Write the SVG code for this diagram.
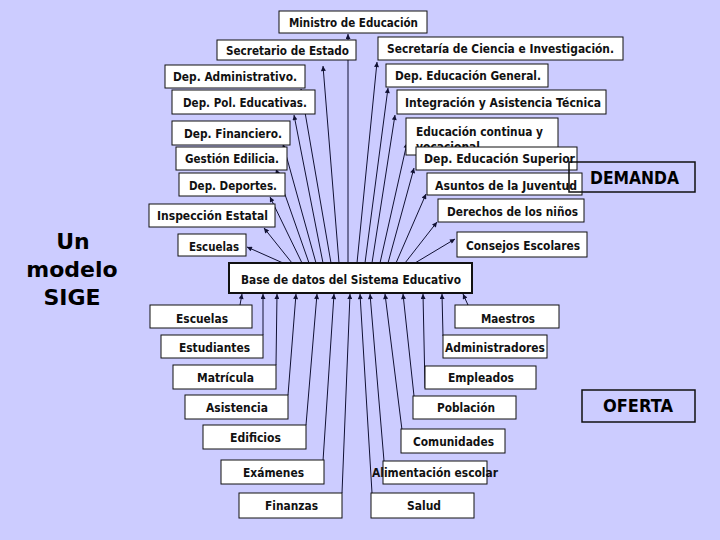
<svg xmlns="http://www.w3.org/2000/svg" width="720" height="540" viewBox="0 0 720 540">
<style>
.bg{fill:#ccccff}
.box rect{fill:#ffffff;stroke:#111111;stroke-width:1}
.box text,.lbl{font-family:"DejaVu Sans","Liberation Sans",sans-serif;font-weight:bold;font-size:11.5px;fill:#111111;text-anchor:middle}
.big{font-family:"DejaVu Sans","Liberation Sans",sans-serif;font-weight:bold;fill:#000000;text-anchor:middle}
.frame{fill:none;stroke:#111111;stroke-width:1.5}
#connectors line{stroke:#111133;stroke-width:1;marker-end:url(#ah)}
</style>
<defs>
<marker id="ah" viewBox="0 0 10 10" refX="10" refY="5" markerWidth="6" markerHeight="5" markerUnits="userSpaceOnUse" orient="auto">
<path d="M0,0 L10,5 L0,10 z" fill="#111133"/>
</marker>
</defs>
<rect class="bg" x="0" y="0" width="720" height="540"/>

<g id="connectors">
<line x1="283" y1="263" x2="247" y2="247"/>
<line x1="292" y1="263" x2="264" y2="228"/>
<line x1="302" y1="263" x2="270" y2="197"/>
<line x1="309" y1="263" x2="276" y2="169"/>
<line x1="316" y1="263" x2="283" y2="144"/>
<line x1="323" y1="263" x2="294" y2="115"/>
<line x1="331" y1="263" x2="301" y2="89"/>
<line x1="339" y1="263" x2="323" y2="66"/>
<line x1="348" y1="263" x2="348" y2="34"/>
<line x1="357" y1="263" x2="377" y2="62"/>
<line x1="365" y1="263" x2="388" y2="88"/>
<line x1="372" y1="263" x2="395" y2="115"/>
<line x1="380" y1="263" x2="407" y2="143"/>
<line x1="388" y1="263" x2="414" y2="168"/>
<line x1="396" y1="263" x2="426" y2="194"/>
<line x1="405" y1="263" x2="437" y2="222"/>
<line x1="415" y1="263" x2="455" y2="239"/>
<line x1="240" y1="305" x2="242" y2="294"/>
<line x1="263" y1="335" x2="263" y2="294"/>
<line x1="276" y1="365" x2="277" y2="294"/>
<line x1="288" y1="395" x2="296" y2="294"/>
<line x1="306" y1="425" x2="317" y2="294"/>
<line x1="323" y1="461" x2="334" y2="294"/>
<line x1="342" y1="493" x2="350" y2="294"/>
<line x1="372" y1="493" x2="360" y2="294"/>
<line x1="384" y1="461" x2="370" y2="294"/>
<line x1="402" y1="430" x2="385" y2="294"/>
<line x1="414" y1="396" x2="403" y2="294"/>
<line x1="425" y1="388" x2="423" y2="294"/>
<line x1="443" y1="336" x2="442" y2="294"/>
<line x1="468" y1="305" x2="463" y2="294"/>
</g>

<g id="ministro" class="box"><rect x="279" y="11" width="148" height="22"/><text x="353.5" y="26.5" textLength="129" lengthAdjust="spacingAndGlyphs">Ministro de Educación</text></g>
<g id="secretario" class="box"><rect x="217" y="40" width="139" height="20"/><text x="287.5" y="55" textLength="123" lengthAdjust="spacingAndGlyphs">Secretario de Estado</text></g>
<g id="ciencia" class="box"><rect x="378" y="37" width="245" height="23"/><text x="500.5" y="53" textLength="227" lengthAdjust="spacingAndGlyphs">Secretaría de Ciencia e Investigación.</text></g>
<g id="edgeneral" class="box"><rect x="386" y="64" width="162" height="23"/><text x="468" y="80" textLength="146" lengthAdjust="spacingAndGlyphs">Dep. Educación General.</text></g>
<g id="integracion" class="box"><rect x="397" y="90" width="209" height="24"/><text x="503" y="106.5" textLength="196" lengthAdjust="spacingAndGlyphs">Integración y Asistencia Técnica</text></g>
<g id="edcontinua" class="box"><rect x="406" y="118" width="152" height="37"/><text x="416" y="136" style="text-anchor:start" textLength="127" lengthAdjust="spacingAndGlyphs">Educación continua y</text><text x="416" y="151" style="text-anchor:start" textLength="64" lengthAdjust="spacingAndGlyphs">vocacional</text></g>
<g id="superior" class="box"><rect x="416" y="147" width="161" height="23"/><text x="499.5" y="163" textLength="151" lengthAdjust="spacingAndGlyphs">Dep. Educación Superior</text></g>
<g id="juventud" class="box"><rect x="427" y="173" width="155" height="22"/><text x="506" y="189.5" textLength="142" lengthAdjust="spacingAndGlyphs">Asuntos de la Juventud</text></g>
<g id="derechos" class="box"><rect x="438" y="199" width="146" height="23"/><text x="512.5" y="215.5" textLength="131" lengthAdjust="spacingAndGlyphs">Derechos de los niños</text></g>
<g id="consejos" class="box"><rect x="457" y="232" width="130" height="25"/><text x="523" y="249.5" textLength="114" lengthAdjust="spacingAndGlyphs">Consejos Escolares</text></g>
<g id="depadmin" class="box"><rect x="165" y="65" width="140" height="23"/><text x="235" y="81" textLength="124" lengthAdjust="spacingAndGlyphs">Dep. Administrativo.</text></g>
<g id="deppol" class="box"><rect x="172" y="90" width="143" height="24"/><text x="245" y="106.5" textLength="124" lengthAdjust="spacingAndGlyphs">Dep. Pol. Educativas.</text></g>
<g id="financiero" class="box"><rect x="172" y="121" width="118" height="24"/><text x="233" y="137.5" textLength="98" lengthAdjust="spacingAndGlyphs">Dep. Financiero.</text></g>
<g id="gestion" class="box"><rect x="176" y="147" width="111" height="23"/><text x="232" y="163" textLength="94" lengthAdjust="spacingAndGlyphs">Gestión Edilicia.</text></g>
<g id="deportes" class="box"><rect x="179" y="173" width="106" height="23"/><text x="233" y="189.5" textLength="88" lengthAdjust="spacingAndGlyphs">Dep. Deportes.</text></g>
<g id="inspeccion" class="box"><rect x="149" y="204" width="126" height="23"/><text x="212.5" y="220" textLength="111" lengthAdjust="spacingAndGlyphs">Inspección Estatal</text></g>
<g id="escuelas-top" class="box"><rect x="178" y="234" width="68" height="22"/><text x="214" y="250.5" textLength="50" lengthAdjust="spacingAndGlyphs">Escuelas</text></g>
<g id="base" class="box"><rect x="229" y="263" width="243" height="30" style="stroke-width:2"/><text x="351" y="283.5" textLength="220" lengthAdjust="spacingAndGlyphs">Base de datos del Sistema Educativo</text></g>
<g id="escuelas" class="box"><rect x="150" y="305" width="102" height="23"/><text x="202" y="322.5" textLength="52" lengthAdjust="spacingAndGlyphs">Escuelas</text></g>
<g id="estudiantes" class="box"><rect x="161" y="335" width="102" height="23"/><text x="214.5" y="351.5" textLength="71" lengthAdjust="spacingAndGlyphs">Estudiantes</text></g>
<g id="matricula" class="box"><rect x="173" y="365" width="103" height="24"/><text x="225.5" y="381.5" textLength="57" lengthAdjust="spacingAndGlyphs">Matrícula</text></g>
<g id="asistencia" class="box"><rect x="185" y="395" width="103" height="24"/><text x="237" y="411.5" textLength="62" lengthAdjust="spacingAndGlyphs">Asistencia</text></g>
<g id="edificios" class="box"><rect x="203" y="425" width="103" height="24"/><text x="255.5" y="441.5" textLength="51" lengthAdjust="spacingAndGlyphs">Edificios</text></g>
<g id="examenes" class="box"><rect x="221" y="460" width="103" height="24"/><text x="273.5" y="476.5" textLength="61" lengthAdjust="spacingAndGlyphs">Exámenes</text></g>
<g id="finanzas" class="box"><rect x="239" y="493" width="103" height="25"/><text x="291.5" y="510" textLength="53" lengthAdjust="spacingAndGlyphs">Finanzas</text></g>
<g id="maestros" class="box"><rect x="455" y="305" width="104" height="23"/><text x="508" y="322.5" textLength="54" lengthAdjust="spacingAndGlyphs">Maestros</text></g>
<g id="administradores" class="box"><rect x="443" y="335" width="104" height="23"/><text x="495" y="351.5" textLength="100" lengthAdjust="spacingAndGlyphs">Administradores</text></g>
<g id="empleados" class="box"><rect x="425" y="366" width="111" height="23"/><text x="481" y="382" textLength="66" lengthAdjust="spacingAndGlyphs">Empleados</text></g>
<g id="poblacion" class="box"><rect x="413" y="396" width="103" height="23"/><text x="466" y="412" textLength="58" lengthAdjust="spacingAndGlyphs">Población</text></g>
<g id="comunidades" class="box"><rect x="401" y="429" width="104" height="24"/><text x="453.5" y="446" textLength="81" lengthAdjust="spacingAndGlyphs">Comunidades</text></g>
<g id="alimentacion" class="box"><rect x="383" y="461" width="104" height="23"/><text x="435" y="477" textLength="126" lengthAdjust="spacingAndGlyphs">Alimentación escolar</text></g>
<g id="salud" class="box"><rect x="371" y="493" width="103" height="25"/><text x="424" y="510" textLength="34" lengthAdjust="spacingAndGlyphs">Salud</text></g>

<g id="demanda"><rect class="frame" x="569" y="162" width="126" height="30"/><text class="big" x="634.5" y="184" font-size="17" textLength="89" lengthAdjust="spacingAndGlyphs">DEMANDA</text></g>
<g id="oferta"><rect class="frame" x="582" y="390" width="113" height="32"/><text class="big" x="638" y="412" font-size="17" textLength="70" lengthAdjust="spacingAndGlyphs">OFERTA</text></g>
<g id="titulo"><text class="big" font-size="22" x="73" y="249">Un</text><text class="big" font-size="22" x="72" y="277">modelo</text><text class="big" font-size="22" x="72" y="305">SIGE</text></g>
</svg>
